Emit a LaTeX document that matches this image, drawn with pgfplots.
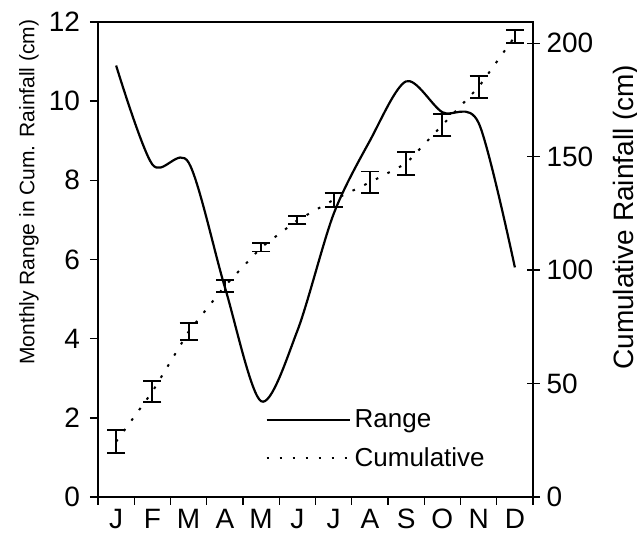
\documentclass[border=0pt]{standalone}
\usepackage{fontspec}
\setmainfont{Liberation Sans}
\usepackage{pgfplots}
\pgfplotsset{compat=1.18}

\begin{document}
\begin{tikzpicture}
\pgfplotsset{
  every axis/.append style={
    width=217.5pt, height=237.5pt, scale only axis,
    xmin=0.5, xmax=12.5,
    /pgf/number format/assume math mode=true,
    tick label style={font=\fontsize{14}{16}\selectfont},
    axis line style={line width=1.2pt},
    every tick/.style={black, line width=0.7pt},
  },
  longleg/.style={legend image code/.code={\draw[##1] (0pt,0pt) -- (41.5pt,0pt);}},
}
% left axis: monthly range
\begin{axis}[
  name=main,
  ymin=0, ymax=12, ytick={0,2,...,12},
  xtick={1,...,12},
  xticklabels={J,F,M,A,M,J,J,A,S,O,N,D},
  major x tick style={draw=none},
  minor xtick={0.5,1.5,...,12.5},
  xtick pos=bottom, ytick pos=left, tick align=outside,
  major tick length=4pt, minor tick length=4pt,
  yticklabel style={xshift=-1.5pt},
  xticklabel style={yshift=-1pt, inner sep=1pt},
  ylabel={Monthly Range in Cum. Rainfall (cm)},
  ylabel style={at={(axis description cs:-0.159,0.642)}, anchor=center,
    font=\fontsize{10.5}{12}\selectfont},
]
\addplot[smooth, line width=1.1pt] coordinates {
(1,10.9) (2,8.4) (3,8.45) (4,5.3) (5,2.42) (6,4.2) (7,7.15) (8,9.0) (9,10.5) (10,9.72) (11,9.45) (12,5.8)
};
\end{axis}
% right axis: cumulative rainfall
\begin{axis}[
  ymin=0, ymax=209.4, ytick={0,50,...,200},
  axis y line*=right, axis x line=none,
  tick align=center, major tick length=6.5pt,
  ylabel={Cumulative Rainfall (cm)},
  ylabel style={at={(axis description cs:1.2138,0.589)}, anchor=center,
    font=\fontsize{14}{16}\selectfont},
  legend style={draw=none, fill=none, at={(axis description cs:0.384,0.121)},
    anchor=west, font=\fontsize{13}{15}\selectfont, inner sep=0pt,
    row sep=4.5pt},
  legend cell align=left,
]
\addlegendimage{line width=1.1pt, longleg}
\addlegendentry{Range}
\addplot[line width=1pt, dash pattern=on 1.3pt off 5.2pt, longleg,
  error bars/.cd, y dir=both, y explicit,
  error bar style={solid, line width=0.9pt},
  error mark options={rotate=90, mark size=4.5pt, line width=0.9pt, solid}]
coordinates {
(1,24.4) +- (0,5.0)
(2,46.4) +- (0,4.7)
(3,72.9) +- (0,3.8)
(4,93.0) +- (0,2.8)
(5,110.0) +- (0,1.8)
(6,122.0) +- (0,1.8)
(7,131.0) +- (0,3.0)
(8,138.7) +- (0,4.8)
(9,147.0) +- (0,5.0)
(10,164.0) +- (0,5.0)
(11,180.7) +- (0,4.9)
(12,203.0) +- (0,2.9)
};
\addlegendentry{Cumulative}
\end{axis}
\pgfresetboundingbox
\path[use as bounding box] ([xshift=-49pt,yshift=-20.5pt]main.south west) rectangle ([xshift=52pt,yshift=11pt]main.north east);
\end{tikzpicture}
\end{document}
